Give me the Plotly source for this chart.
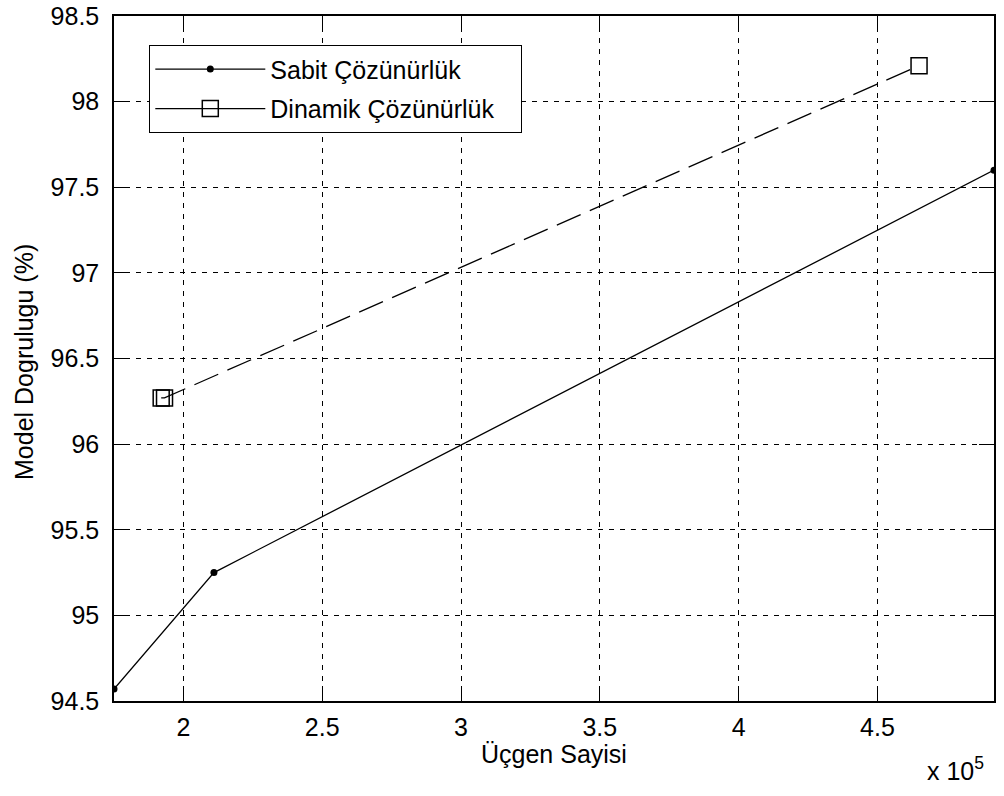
import plotly.graph_objects as go

# Data (x in units of 1e5)
sabit_x = [1.75, 2.11, 4.92]
sabit_y = [94.57, 95.25, 97.60]
dinamik_x = [1.92, 1.932, 4.65]
dinamik_y = [96.27, 96.27, 98.21]

x_ticks = [2, 2.5, 3, 3.5, 4, 4.5]
x_ticklabels = ["2", "2.5", "3", "3.5", "4", "4.5"]
y_ticks = [94.5, 95, 95.5, 96, 96.5, 97, 97.5, 98, 98.5]
y_ticklabels = ["94.5", "95", "95.5", "96", "96.5", "97", "97.5", "98", "98.5"]

series_names = ["Sabit Çözünürlük", "Dinamik Çözünürlük"]

FONT = "Liberation Sans, Arial, sans-serif"
FS = 25

W, H = 1004, 796
L, R, T, B = 114, 10, 16, 95
pw, ph = W - L - R, H - T - B

def px_x(p):
    return (p - L) / pw

def px_y(p):
    return (H - B - p) / ph

fig = go.Figure()

# actual data traces
fig.add_trace(go.Scatter(
    x=sabit_x, y=sabit_y, mode="lines+markers",
    line=dict(color="black", width=1.3),
    marker=dict(symbol="circle", size=7, color="black"),
    showlegend=False, legendgroup="a"))
fig.add_trace(go.Scatter(
    x=dinamik_x, y=dinamik_y, mode="lines+markers",
    line=dict(color="black", width=1.3, dash="26px,10px"),
    marker=dict(symbol="square-open", size=16, color="black", line=dict(width=1.5)),
    showlegend=False, legendgroup="b"))

# legend entries (solid lines, as in the reference)
pad = "\u00a0\u00a0\u00a0"
fig.add_trace(go.Scatter(
    x=[None], y=[None], mode="lines+markers", name=series_names[0] + pad,
    line=dict(color="black", width=1.3),
    marker=dict(symbol="circle", size=7, color="black"),
    legendgroup="a"))
fig.add_trace(go.Scatter(
    x=[None], y=[None], mode="lines+markers", name=series_names[1] + pad,
    line=dict(color="black", width=1.3),
    marker=dict(symbol="square-open", size=16, color="black", line=dict(width=1.5)),
    legendgroup="b"))

axis_common = dict(
    showline=True, linecolor="black", linewidth=1.5, mirror="ticks",
    ticks="inside", ticklen=15, tickwidth=1.3, tickcolor="black",
    showgrid=True, gridcolor="black", gridwidth=1, griddash="5px,6px",
    zeroline=False,
    tickfont=dict(family=FONT, size=FS, color="black"),
)

fig.update_xaxes(range=[1.75, 4.92], tickvals=x_ticks, ticktext=x_ticklabels,
                 ticklabelstandoff=3, **axis_common)
fig.update_yaxes(range=[94.5, 98.5], tickvals=y_ticks, ticktext=y_ticklabels,
                 ticklabelstandoff=8, **axis_common)

fig.update_layout(
    width=W, height=H,
    margin=dict(l=L, r=R, t=T, b=B, autoexpand=False),
    paper_bgcolor="white", plot_bgcolor="white",
    font=dict(family=FONT, size=FS, color="black"),
    legend=dict(
        x=px_x(149), y=px_y(45), xanchor="left", yanchor="top",
        bgcolor="white", bordercolor="black", borderwidth=1.3,
        font=dict(family=FONT, size=FS, color="black"),
        itemwidth=110, tracegroupgap=4, traceorder="grouped",
    ),
    annotations=[
        dict(text="Üçgen Sayisi", xref="paper", yref="paper",
             x=0.5, y=px_y(754), xanchor="center", yanchor="middle",
             showarrow=False, font=dict(family=FONT, size=FS, color="black")),
        dict(text="Model Dogrulugu (%)", xref="paper", yref="paper",
             x=px_x(24), y=px_y(362), xanchor="center", yanchor="middle", textangle=-90,
             showarrow=False, font=dict(family=FONT, size=FS, color="black")),
        dict(text="x 10<sup>5</sup>", xref="paper", yref="paper",
             x=px_x(986), y=px_y(769), xanchor="right", yanchor="middle",
             showarrow=False, font=dict(family=FONT, size=FS, color="black")),
    ],
)

fig.write_html("out.html")
